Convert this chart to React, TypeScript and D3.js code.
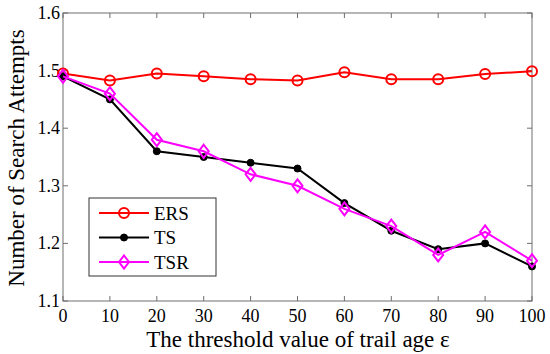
import * as d3 from 'd3';

const xs = [0, 10, 20, 30, 40, 50, 60, 70, 80, 90, 100];
const ers = [1.495, 1.483, 1.495, 1.49, 1.485, 1.483, 1.497, 1.485, 1.485, 1.494, 1.499];
const ts = [1.49, 1.45, 1.36, 1.35, 1.34, 1.33, 1.27, 1.222, 1.19, 1.2, 1.16];
const tsr = [1.49, 1.46, 1.38, 1.36, 1.32, 1.3, 1.26, 1.23, 1.18, 1.22, 1.17];
const yTicks = [1.1, 1.2, 1.3, 1.4, 1.5, 1.6];
const seriesNames = ['ERS', 'TS', 'TSR'];

const W = 550;
const H = 354;
const m = { left: 63, right: 18, top: 13, bottom: 53 };
const font = "'Liberation Serif', 'Times New Roman', serif";

export default function App() {
  const x = d3.scaleLinear().domain([0, 100]).range([m.left, W - m.right]);
  const y = d3.scaleLinear().domain([1.1, 1.6]).range([H - m.bottom, m.top]);
  const line = d3
    .line<number>()
    .x((_, i) => x(xs[i]))
    .y((d) => y(d));

  const axisColor = '#6e6e6e';
  const x0 = x(0), x1 = x(100), y0 = y(1.1), y1 = y(1.6);
  const tk = 5;
  const tickStyle = { fontFamily: font, fontSize: 18 };

  const marker = (name: string, cx: number, cy: number, key: string | number) => {
    if (name === 'ERS')
      return <circle key={key} cx={cx} cy={cy} r={5} fill="none" stroke="#ff0000" strokeWidth={2} />;
    if (name === 'TS')
      return <circle key={key} cx={cx} cy={cy} r={3.5} fill="#000" stroke="#000" strokeWidth={1} />;
    return (
      <path
        key={key}
        d={`M${cx},${cy - 6.5}L${cx + 5},${cy}L${cx},${cy + 6.5}L${cx - 5},${cy}Z`}
        fill="none"
        stroke="#ff00ff"
        strokeWidth={2}
      />
    );
  };

  const series = [
    { name: 'ERS', data: ers, color: '#ff0000' },
    { name: 'TS', data: ts, color: '#000000' },
    { name: 'TSR', data: tsr, color: '#ff00ff' },
  ];

  const legend = { x: 89, y: 198, w: 127, h: 78 };

  return (
    <svg width={W} height={H} style={{ position: 'absolute', left: 0, top: 0, background: '#fff' }}>
      <rect x={0} y={0} width={W} height={H} fill="#fff" />
      {/* ticks */}
      {xs.map((v) => (
        <g key={'xt' + v}>
          <line x1={x(v)} x2={x(v)} y1={y0} y2={y0 - tk} stroke={axisColor} />
          <line x1={x(v)} x2={x(v)} y1={y1} y2={y1 + tk} stroke={axisColor} />
          <text x={x(v)} y={322} style={tickStyle} textAnchor="middle" fill="#000">
            {v}
          </text>
        </g>
      ))}
      {yTicks.map((v) => (
        <g key={'yt' + v}>
          <line x1={x0} x2={x0 + tk} y1={y(v)} y2={y(v)} stroke={axisColor} />
          <line x1={x1} x2={x1 - tk} y1={y(v)} y2={y(v)} stroke={axisColor} />
          <text x={60} y={y(v) + 6} style={tickStyle} textAnchor="end" fill="#000">
            {v.toFixed(1)}
          </text>
        </g>
      ))}
      <rect x={x0} y={y1} width={x1 - x0} height={y0 - y1} fill="none" stroke={axisColor} strokeWidth={1} />

      {series.map((s) => (
        <g key={s.name}>
          <path d={line(s.data) || ''} fill="none" stroke={s.color} strokeWidth={2} />
          {s.data.map((d, i) => marker(s.name, x(xs[i]), y(d), i))}
        </g>
      ))}

      {/* legend */}
      <rect x={legend.x} y={legend.y} width={legend.w} height={legend.h} fill="#fff" stroke="#333" strokeWidth={1} />
      {seriesNames.map((n, i) => {
        const ly = 213 + i * 24.5;
        const col = series[i].color;
        return (
          <g key={'lg' + n}>
            <line x1={99} x2={149} y1={ly} y2={ly} stroke={col} strokeWidth={2} />
            {marker(n, 124, ly, 'm' + n)}
            <text x={154} y={ly + 6.5} style={{ fontFamily: font, fontSize: 19 }} fill="#000">
              {n}
            </text>
          </g>
        );
      })}

      <text x={298} y={347} style={{ fontFamily: font, fontSize: 23 }} textAnchor="middle" fill="#000">
        The threshold value of trail age ε
      </text>
      <text
        transform={`translate(24,${(23 + 293) / 2}) rotate(-90)`}
        style={{ fontFamily: font, fontSize: 23 }}
        textAnchor="middle"
        fill="#000"
      >
        Number of Search Attempts
      </text>
    </svg>
  );
}
